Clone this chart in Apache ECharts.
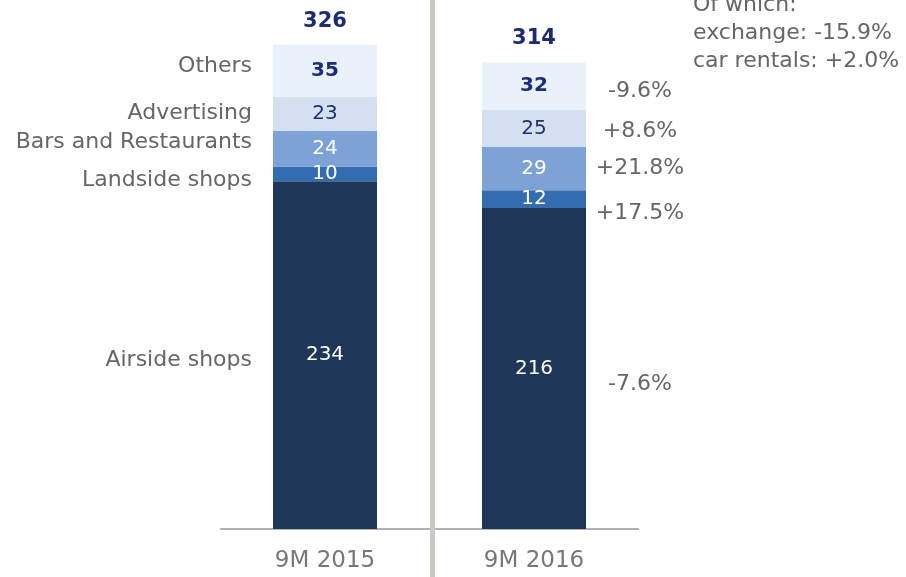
<!DOCTYPE html>
<html>
<head>
<meta charset="utf-8">
<script src="https://cdn.jsdelivr.net/npm/echarts@6/dist/echarts.min.js"></script>
<style>
  html, body { margin: 0; padding: 0; background: #fff; }
  #chart { width: 906px; height: 577px; }
</style>
</head>
<body>
<div id="chart"></div>
<script>
// 数据
const categories = ['9M 2015', '9M 2016'];
const seriesNames = ['Airside shops', 'Landside shops', 'Bars and Restaurants', 'Advertising', 'Others'];
const airside = [234, 216];
const landside = [10, 12];
const barsRestaurants = [24, 29];
const advertising = [23, 25];
const others = [35, 32];
const totals = [326, 314];
const changes = ['-7.6%', '+17.5%', '+21.8%', '+8.6%', '-9.6%'];
const noteLines = ['Of which:', 'exchange: -15.9%', 'car rentals: +2.0%'];

const seriesValues = [airside, landside, barsRestaurants, advertising, others];

// 样式
const FONT = 'DejaVu Sans';
const colors = ['#1e3759', '#346cb0', '#7da2d6', '#d3e0f0', '#e9f2fa'];
const valueColors = ['#fff', '#fff', '#fff', '#1f2f73', '#1a2d80'];
const nameOffsets = [5, 6, -6, 0, -4];     // 左侧名称的垂直偏移
const changeOffsets = [16, 14, 0, 3, 5];   // 右侧百分比的垂直偏移
const BAR_W = 104;

const chart = echarts.init(document.getElementById('chart'));

const series = [];

// 主堆叠柱
seriesValues.forEach((vals, i) => {
  series.push({
    name: seriesNames[i],
    type: 'bar',
    stack: 'main',
    barWidth: BAR_W,
    barGap: '-100%',
    data: vals,
    itemStyle: { color: colors[i] },
    label: {
      show: true,
      position: 'inside',
      color: valueColors[i],
      fontFamily: FONT,
      fontSize: 20,
      fontWeight: i === 4 ? 'bold' : 'normal'
    },
    z: 2
  });
});

// 透明堆叠：左侧名称 + 右侧变化率
seriesValues.forEach((vals, i) => {
  series.push({
    name: seriesNames[i] + ' note',
    type: 'bar',
    stack: 'notes',
    barWidth: BAR_W,
    barGap: '-100%',
    silent: true,
    itemStyle: { color: 'transparent' },
    data: [
      {
        value: vals[0],
        label: {
          show: true,
          position: 'left',
          distance: 21,
          offset: [0, nameOffsets[i]],
          formatter: seriesNames[i],
          color: '#666',
          fontFamily: FONT,
          fontSize: 22
        }
      },
      {
        value: vals[1],
        label: {
          show: true,
          position: [158, '50%'],
          align: 'center',
          verticalAlign: 'middle',
          offset: [0, changeOffsets[i]],
          formatter: changes[i],
          color: '#666',
          fontFamily: FONT,
          fontSize: 22
        }
      }
    ],
    z: 1
  });
});

// 合计
series.push({
  name: 'Total',
  type: 'bar',
  barWidth: BAR_W,
  barGap: '-100%',
  silent: true,
  data: totals,
  itemStyle: { color: 'transparent' },
  label: {
    show: true,
    position: 'top',
    distance: 13,
    color: '#1b2a7a',
    fontFamily: FONT,
    fontSize: 21,
    fontWeight: 'bold'
  },
  z: 0
});

const option = {
  animation: false,
  grid: { left: 220.5, right: 267.5, top: 0, bottom: 48 },
  xAxis: {
    type: 'category',
    data: categories,
    axisLine: { lineStyle: { color: '#999', width: 1.5 } },
    axisTick: { show: false },
    axisLabel: {
      color: '#777',
      fontFamily: FONT,
      fontSize: 23,
      margin: 21
    }
  },
  yAxis: {
    type: 'value',
    min: 0,
    max: 356,
    show: false,
    splitLine: { show: false }
  },
  graphic: [
    {
      type: 'rect',
      shape: { x: 430, y: 0, width: 5, height: 577 },
      style: { fill: '#ccc8c0' },
      z: 10
    },
    {
      type: 'text',
      left: 693,
      top: -9,
      style: {
        text: noteLines.join('\n'),
        fill: '#666',
        font: '22px "DejaVu Sans"',
        lineHeight: 28
      }
    }
  ],
  series: series
};

chart.setOption(option);
</script>
</body>
</html>
